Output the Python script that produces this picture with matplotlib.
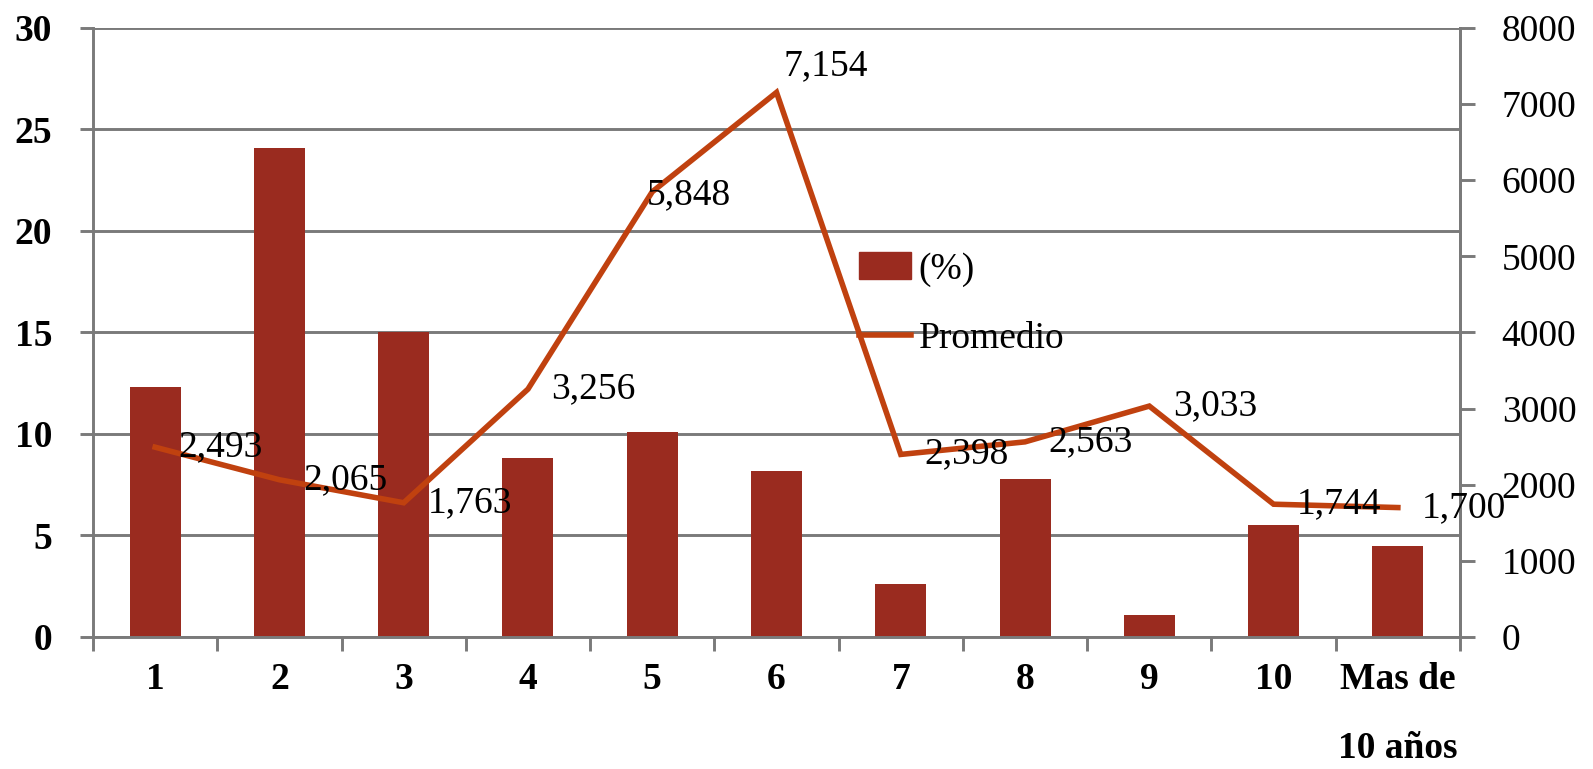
import numpy as np
import matplotlib.pyplot as plt
from matplotlib.patches import Patch
from matplotlib.lines import Line2D

categories = ['1', '2', '3', '4', '5', '6', '7', '8', '9', '10', 'Mas de\n10 años']
pct = [12.3, 24.1, 15.0, 8.8, 10.1, 8.2, 2.6, 7.8, 1.1, 5.5, 4.5]
promedio = [2493, 2065, 1763, 3256, 5848, 7154, 2398, 2563, 3033, 1744, 1700]
left_ticks = [0, 5, 10, 15, 20, 25, 30]
right_ticks = [0, 1000, 2000, 3000, 4000, 5000, 6000, 7000, 8000]

# label offsets in points (dx, dy)
label_offsets = [(17, 0)] * 11
label_offsets[4] = (-4, -2)
label_offsets[5] = (5, 19)

plt.rcParams['font.family'] = ['Liberation Serif', 'DejaVu Serif']
bar_color = '#9A2B1F'
line_color = '#C0410F'
grid_color = '#7A7A7A'
fs = 27
lw_axis = 2.1

fig = plt.figure(figsize=(15.93, 7.69), dpi=100)
ax = fig.add_axes([0.0584, 0.1717, 0.8581, 0.7919])
x = np.arange(len(categories))

ax.bar(x, pct, width=0.41, color=bar_color, zorder=2)
ax.set_xlim(-0.5, len(categories) - 0.5)
ax.set_ylim(0, 30)
ax.set_yticks(left_ticks)
ax.set_yticklabels([str(t) for t in left_ticks], fontsize=fs, fontweight='bold')
ax.yaxis.grid(True, color=grid_color, linewidth=lw_axis)
ax.set_axisbelow(True)
ax.tick_params(axis='y', direction='out', length=9.5, width=lw_axis, color=grid_color, pad=20)

ax.set_xticks(x)
ax.set_xticklabels(categories, fontsize=fs, fontweight='bold', linespacing=2.25, va='top')
ax.set_xticks(np.arange(len(categories) + 1) - 0.5, minor=True)
ax.tick_params(axis='x', which='major', length=0, pad=18)
ax.tick_params(axis='x', which='minor', direction='out', length=10, width=lw_axis, color=grid_color)

for side in ['left', 'bottom', 'right']:
    ax.spines[side].set_color(grid_color)
    ax.spines[side].set_linewidth(lw_axis)
ax.spines['top'].set_visible(False)

ax2 = ax.twinx()
ax2.plot(x, promedio, color=line_color, linewidth=4, solid_joinstyle='miter', zorder=3)
ax2.set_ylim(0, 8000)
ax2.set_yticks(right_ticks)
ax2.set_yticklabels([str(t) for t in right_ticks], fontsize=fs)
ax2.tick_params(axis='y', direction='out', length=11, width=lw_axis, color=grid_color, pad=19)
for side in ['left', 'bottom', 'top']:
    ax2.spines[side].set_visible(False)
ax2.spines['right'].set_color(grid_color)
ax2.spines['right'].set_linewidth(lw_axis)

for i, v in enumerate(promedio):
    ax2.annotate(f'{v:,}', (x[i], v), xytext=label_offsets[i], textcoords='offset points',
                 ha='left', va='center', fontsize=fs, zorder=4)

handles = [Patch(color=bar_color), Line2D([], [], color=line_color, linewidth=4)]
ax2.legend(handles, ['(%)', 'Promedio'], loc='upper left', bbox_to_anchor=(0.539, 0.672),
           bbox_transform=fig.transFigure, frameon=False, fontsize=fs,
           borderpad=0, borderaxespad=0, handlelength=1.4, handletextpad=0.2,
           labelspacing=0.92)

plt.savefig('out.png', dpi=100)
